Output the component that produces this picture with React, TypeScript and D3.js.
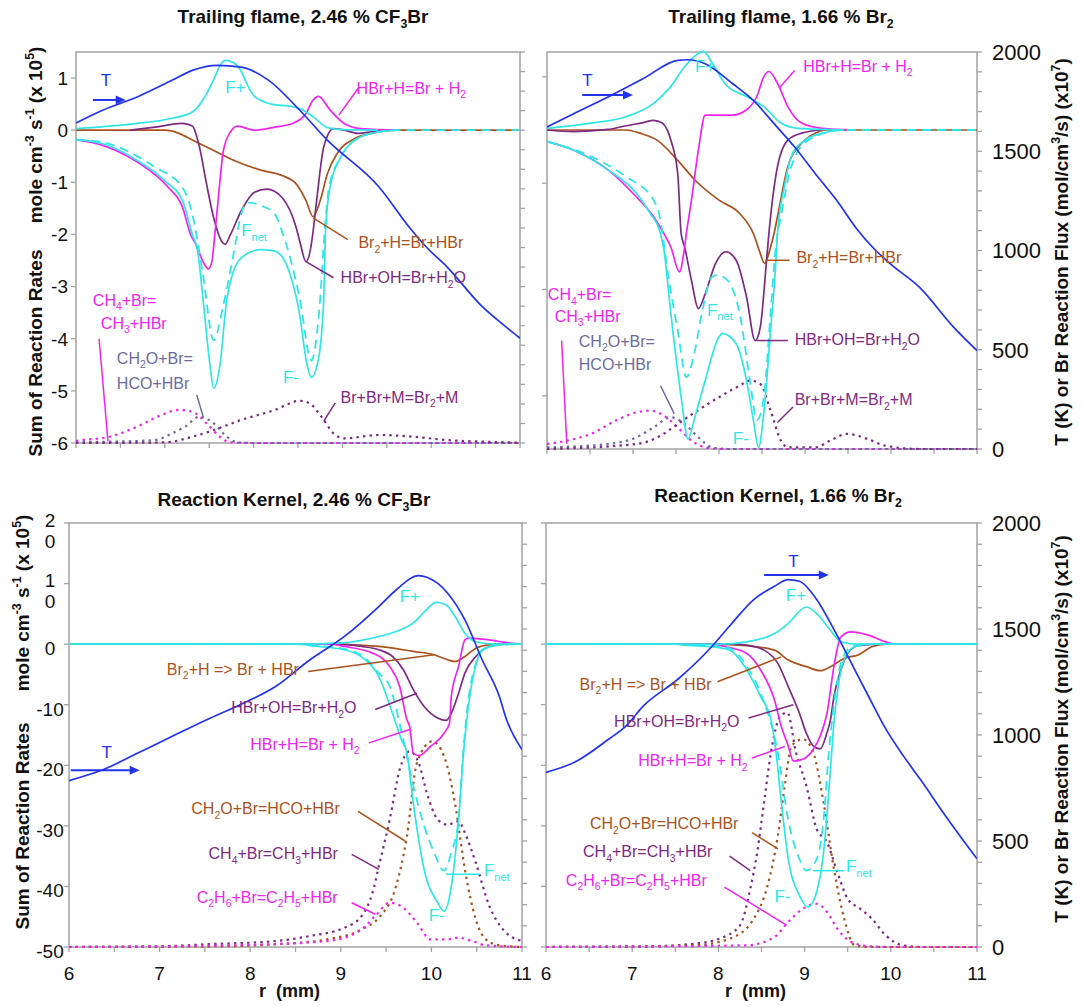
import * as d3 from 'd3';

type P = [number, number];

// axis values
const rRange: P = [6, 11];
const rTickLabels = [6, 7, 8, 9, 10, 11];
const tempLabels = [0, 500, 1000, 1500, 2000];
const trailTicks = [1, 0, -1, -2, -3, -4, -5, -6];
const trailTicksRight = [1, -1, -3, -5];
const kernelTicks = [20, 10, 0, -10, -20, -30, -40, -50];

// ---- Trailing flame, 2.46 % CF3Br  (rates x1e5, T and fluxes on right axis) ----
const tcT: P[] = [[6.0,1637],[6.3,1702],[6.69,1770],[7.08,1855],[7.31,1906],[7.59,1932],[7.86,1923],[8.17,1855],[8.52,1702],[8.83,1549],[9.41,1311],[9.76,1100],[9.95,1000],[10.18,900],[10.57,700],[10.88,580],[11.0,536]];
const tcFplus: P[] = [[6.0,0.03],[6.69,0.13],[7.08,0.23],[7.31,0.35],[7.43,0.58],[7.55,0.97],[7.64,1.29],[7.68,1.34],[7.78,1.29],[7.86,1.13],[7.93,0.87],[8.01,0.65],[8.2,0.5],[8.44,0.45],[8.55,0.39],[8.67,0.26],[8.83,0.05],[9.02,0.01],[9.4,0]];
const tcFminus: P[] = [[6.0,-0.18],[6.3,-0.26],[6.69,-0.58],[7.0,-0.97],[7.2,-1.35],[7.31,-2.0],[7.37,-2.32],[7.43,-3.23],[7.51,-4.52],[7.55,-4.95],[7.62,-4.52],[7.7,-3.23],[7.86,-2.45],[8.09,-2.29],[8.24,-2.32],[8.4,-2.71],[8.52,-3.55],[8.59,-4.39],[8.65,-4.74],[8.73,-4.39],[8.79,-3.23],[8.81,-1.94],[8.86,-1.1],[8.98,-0.52],[9.14,-0.19],[9.41,-0.03],[9.64,0]];
const tcFnet: P[] = [[6.0,-0.18],[6.3,-0.23],[6.89,-0.71],[7.2,-1.1],[7.31,-1.61],[7.43,-2.77],[7.55,-4.03],[7.66,-3.35],[7.78,-2.32],[7.86,-1.61],[7.93,-1.39],[8.09,-1.45],[8.24,-1.61],[8.32,-1.94],[8.52,-3.23],[8.65,-4.42],[8.75,-3.23],[8.8,-1.94],[8.85,-1.1],[8.98,-0.52],[9.14,-0.19],[9.41,-0.03],[9.64,0],[11.0,0]];
const tcHBrH: P[] = [[6.0,-0.18],[6.3,-0.29],[6.69,-0.61],[7.04,-1.1],[7.2,-1.48],[7.29,-2.0],[7.35,-2.19],[7.43,-2.52],[7.49,-2.66],[7.53,-2.52],[7.56,-2.06],[7.6,-1.35],[7.66,-0.39],[7.74,-0.03],[7.82,0.08],[8.01,0],[8.24,0.06],[8.44,0.13],[8.59,0.32],[8.67,0.58],[8.73,0.65],[8.86,0.39],[9.02,0.13],[9.21,0.03],[9.64,0]];
const tcHBrOH: P[] = [[6.61,0],[6.89,0.06],[7.2,0.13],[7.31,0.08],[7.39,-0.32],[7.47,-1.03],[7.55,-1.68],[7.64,-2.13],[7.68,-2.19],[7.74,-2.0],[7.86,-1.55],[8.01,-1.19],[8.15,-1.13],[8.32,-1.29],[8.48,-1.87],[8.52,-2.13],[8.59,-2.52],[8.65,-2.19],[8.67,-1.94],[8.71,-1.35],[8.79,-0.32],[8.9,0.03],[9.02,0],[9.18,-0.06],[9.33,-0.03],[9.49,0]];
const tcBr2H: P[] = [[6.0,0],[7.0,0],[7.16,-0.06],[7.31,-0.19],[7.55,-0.39],[7.78,-0.58],[8.09,-0.77],[8.32,-0.87],[8.48,-1.03],[8.59,-1.35],[8.67,-1.66],[8.75,-1.35],[8.83,-0.84],[8.94,-0.45],[9.14,-0.16],[9.33,-0.06],[9.6,0],[11.0,0]];
const tcCH4: P[] = [[6.0,10],[6.07,15],[6.38,32],[6.69,84],[6.92,135],[7.16,169],[7.31,160],[7.47,101],[7.62,32],[7.74,3],[8.0,0],[11.0,0]];
const tcCH2O: P[] = [[6.0,5],[6.5,8],[6.89,15],[7.08,49],[7.23,84],[7.39,135],[7.55,101],[7.7,32],[7.82,3],[8.0,0],[11.0,0]];
const tcBrBr: P[] = [[6.0,0],[7.0,3],[7.31,32],[7.55,66],[7.86,118],[8.24,169],[8.52,216],[8.63,203],[8.79,118],[8.9,49],[9.02,24],[9.41,41],[9.8,32],[10.18,15],[10.57,7],[11.0,2]];

// ---- Trailing flame, 1.66 % Br2 ----
const tbT: P[] = [[6.0,1622],[6.31,1689],[6.71,1773],[7.12,1866],[7.52,1958],[7.64,1961],[7.84,1941],[8.16,1840],[8.4,1756],[8.64,1639],[8.88,1521],[9.12,1387],[9.37,1252],[9.6,1110],[9.8,1010],[10.0,930],[10.33,815],[10.73,613],[11.0,496]];
const tbFplus: P[] = [[6.0,0.03],[6.51,0.13],[6.92,0.25],[7.24,0.5],[7.44,0.82],[7.6,1.19],[7.76,1.44],[7.82,1.48],[7.92,1.26],[8.08,0.85],[8.32,0.63],[8.52,0.44],[8.72,0.13],[8.92,0.03],[9.45,0]];
const tbFminus: P[] = [[6.0,-0.22],[6.31,-0.38],[6.71,-0.75],[7.04,-1.19],[7.2,-1.57],[7.32,-1.95],[7.36,-2.26],[7.44,-3.45],[7.56,-5.03],[7.64,-5.81],[7.72,-5.4],[7.84,-4.71],[8.0,-3.89],[8.04,-3.83],[8.2,-4.02],[8.32,-4.71],[8.4,-5.46],[8.46,-5.97],[8.52,-5.34],[8.6,-3.77],[8.66,-2.51],[8.68,-1.95],[8.76,-1.07],[8.84,-0.5],[9.0,-0.19],[9.2,-0.06],[9.45,0]];
const tbFnet: P[] = [[6.0,-0.22],[6.43,-0.44],[6.92,-0.88],[7.24,-1.32],[7.32,-1.7],[7.4,-2.64],[7.52,-3.77],[7.62,-4.65],[7.72,-4.15],[7.8,-3.45],[7.92,-2.76],[7.98,-2.73],[8.1,-2.83],[8.24,-3.45],[8.36,-4.71],[8.44,-5.46],[8.52,-5.03],[8.6,-3.45],[8.66,-2.2],[8.72,-1.63],[8.84,-0.69],[9.04,-0.19],[9.45,0],[11.0,0]];
const tbHBrH: P[] = [[6.0,-0.22],[6.31,-0.38],[6.71,-0.75],[7.04,-1.26],[7.24,-1.63],[7.36,-1.95],[7.44,-2.2],[7.54,-2.67],[7.6,-2.2],[7.62,-1.95],[7.68,-1.32],[7.76,-0.38],[7.84,0.28],[8.0,0.28],[8.16,0.28],[8.32,0.38],[8.44,0.63],[8.52,1.0],[8.58,1.1],[8.68,0.88],[8.8,0.44],[8.96,0.13],[9.2,0.03],[9.57,0]];
const tbHBrOH: P[] = [[6.0,0],[6.31,-0.03],[6.71,0.01],[6.92,0.08],[7.12,0.14],[7.24,0.18],[7.34,0.13],[7.44,-0.19],[7.52,-0.82],[7.56,-1.95],[7.6,-2.2],[7.68,-2.83],[7.76,-3.36],[7.84,-3.08],[7.96,-2.51],[8.08,-2.29],[8.2,-2.45],[8.32,-3.14],[8.42,-3.96],[8.48,-3.71],[8.55,-2.51],[8.58,-1.95],[8.68,-0.69],[8.8,-0.19],[8.96,-0.06],[9.2,0]];
const tbBr2H: P[] = [[6.0,0],[6.92,0],[7.08,-0.06],[7.28,-0.19],[7.52,-0.57],[7.72,-0.94],[8.0,-1.32],[8.24,-1.57],[8.4,-1.95],[8.48,-2.32],[8.53,-2.51],[8.6,-2.2],[8.64,-1.95],[8.68,-1.63],[8.8,-0.69],[8.96,-0.25],[9.12,-0.06],[9.25,0],[11.0,0]];
const tbCH4: P[] = [[6.0,25],[6.23,42],[6.51,76],[6.8,143],[7.04,185],[7.2,193],[7.36,168],[7.52,109],[7.68,42],[7.84,8],[8.0,0],[11.0,0]];
const tbCH2O: P[] = [[6.0,8],[6.71,25],[7.04,59],[7.24,109],[7.44,160],[7.6,126],[7.76,59],[7.92,8],[8.1,0],[11.0,0]];
const tbBrBr: P[] = [[6.0,0],[7.04,25],[7.32,67],[7.52,126],[7.72,185],[8.0,261],[8.24,319],[8.36,345],[8.48,328],[8.6,193],[8.72,42],[8.8,8],[9.12,8],[9.29,42],[9.49,76],[9.73,50],[9.93,17],[10.33,0],[11.0,0]];

// ---- Reaction kernel, 2.46 % CF3Br ----
const kcT: P[] = [[6.0,785],[6.38,837],[6.76,915],[7.14,994],[7.52,1072],[7.9,1145],[8.28,1229],[8.66,1355],[9.04,1465],[9.42,1606],[9.61,1684],[9.86,1752],[9.95,1744],[10.18,1669],[10.37,1543],[10.56,1355],[10.75,1182],[10.83,1072],[11.0,931]];
const kcFplus: P[] = [[6.0,0],[8.5,0],[9.0,0.2],[9.42,1.26],[9.61,2.1],[9.8,3.5],[9.96,5.9],[10.05,6.9],[10.16,6.5],[10.26,4.6],[10.37,1.8],[10.49,0.4],[10.7,0],[11.0,0]];
const kcFminus: P[] = [[6.0,0],[8.51,0],[8.74,-0.38],[9.04,-0.93],[9.27,-2.58],[9.42,-5.33],[9.57,-11.4],[9.67,-15.8],[9.73,-18.0],[9.8,-26.2],[9.92,-37.2],[10.07,-42.7],[10.14,-44.1],[10.22,-40.0],[10.3,-29.0],[10.36,-17],[10.42,-9],[10.49,-3.5],[10.56,-1.0],[10.71,-0.2],[10.87,0],[11.0,0]];
const kcFnet: P[] = [[6.0,0],[8.51,0],[8.74,-0.27],[9.04,-0.77],[9.27,-2.31],[9.42,-4.78],[9.54,-6.98],[9.69,-15.8],[9.8,-23.4],[9.92,-30.0],[10.03,-34.4],[10.14,-37.4],[10.22,-34.4],[10.3,-29.0],[10.35,-18.0],[10.41,-9],[10.49,-3.2],[10.56,-0.9],[10.75,-0.1],[11.0,0]];
const kcHBrH: P[] = [[6.0,0],[8.9,0],[9.04,-0.38],[9.35,-1.48],[9.54,-3.68],[9.65,-6.98],[9.73,-12.5],[9.76,-13.6],[9.8,-18.0],[9.86,-18.4],[9.99,-16.9],[10.14,-14.7],[10.2,-13.0],[10.22,-8.6],[10.3,-3.68],[10.37,0.71],[10.41,0.99],[10.56,0.82],[10.75,0.44],[10.87,0.16],[11.0,0]];
const kcHBrOH: P[] = [[6.0,0],[8.93,0],[9.23,-0.38],[9.42,-0.93],[9.57,-2.03],[9.69,-4.23],[9.8,-7.5],[9.92,-10.3],[10.07,-12.2],[10.16,-12.6],[10.22,-11.4],[10.3,-8.1],[10.37,-4.78],[10.49,-2.03],[10.64,-0.38],[10.79,0],[11.0,0]];
const kcBr2H: P[] = [[6.0,0],[8.8,0],[9.42,-0.38],[9.8,-1.2],[10.03,-1.76],[10.18,-2.58],[10.26,-2.86],[10.37,-2.03],[10.49,-0.66],[10.64,-0.1],[10.8,0],[11.0,0]];
const kcCH4: P[] = [[6.0,0],[7.0,3],[7.52,13],[8.28,28],[8.66,52],[9.04,91],[9.23,146],[9.35,256],[9.42,381],[9.54,601],[9.65,837],[9.76,923],[9.86,868],[9.95,727],[10.07,601],[10.18,577],[10.3,593],[10.37,538],[10.49,397],[10.64,193],[10.79,83],[11.0,28]];
const kcCH2O: P[] = [[6.0,0],[7.5,2],[8.28,13],[8.85,36],[9.23,83],[9.42,138],[9.61,287],[9.73,523],[9.84,868],[10.01,970],[10.14,899],[10.26,679],[10.37,365],[10.49,130],[10.6,36],[10.75,8],[11.0,0]];
const kcC2H6: P[] = [[6.0,0],[7.9,9],[8.85,28],[9.23,83],[9.38,146],[9.54,209],[9.69,185],[9.84,115],[9.99,36],[10.18,36],[10.3,44],[10.45,28],[10.6,8],[11.0,0]];

// ---- Reaction kernel, 1.66 % Br2 ----
const kbT: P[] = [[6.0,824],[6.33,871],[6.73,981],[6.93,1043],[7.13,1137],[7.53,1263],[7.93,1420],[8.13,1514],[8.41,1639],[8.65,1702],[8.81,1733],[8.94,1725],[9.14,1639],[9.34,1498],[9.54,1341],[9.74,1184],[9.94,1030],[10.14,905],[10.34,792],[10.66,604],[11.0,416]];
const kbFplus: P[] = [[6.0,0],[8.01,0],[8.33,0.38],[8.65,1.75],[8.81,3.4],[9.02,6.13],[9.14,5.04],[9.3,2.3],[9.42,0.38],[9.62,0],[11.0,0]];
const kbFminus: P[] = [[6.0,0],[7.5,0],[7.61,-0.16],[7.93,-0.44],[8.13,-0.99],[8.33,-4.27],[8.49,-8.65],[8.61,-12.5],[8.67,-18],[8.73,-26.1],[8.81,-35.4],[8.94,-41.5],[9.04,-43.4],[9.14,-40.9],[9.22,-34.4],[9.3,-20.7],[9.34,-13],[9.39,-7],[9.46,-2.5],[9.58,-0.44],[9.74,0],[11.0,0]];
const kbFnet: P[] = [[6.0,0],[7.5,0],[7.61,-0.1],[7.93,-0.3],[8.13,-0.7],[8.33,-3.7],[8.49,-8.1],[8.69,-18.0],[8.81,-29.0],[8.94,-35.5],[9.02,-37.4],[9.14,-35.5],[9.22,-29.0],[9.28,-18.0],[9.34,-10],[9.42,-3.2],[9.54,-0.44],[9.74,0],[11.0,0]];
const kbHBrH: P[] = [[6.0,0],[7.9,0],[8.09,-0.44],[8.33,-1.53],[8.49,-4.27],[8.65,-9.2],[8.73,-13.6],[8.81,-16.8],[8.87,-19.3],[8.98,-19.0],[9.1,-17.4],[9.18,-15.2],[9.26,-11.4],[9.34,-3.7],[9.42,1.2],[9.54,2.03],[9.74,1.48],[9.94,0.38],[10.06,0],[11.0,0]];
const kbHBrOH: P[] = [[6.0,0],[8.17,0],[8.33,-0.16],[8.53,-0.99],[8.69,-3.18],[8.81,-7.0],[8.94,-11.4],[9.02,-14.7],[9.1,-16.8],[9.18,-17.3],[9.26,-14.6],[9.3,-12.5],[9.34,-8.65],[9.42,-4.27],[9.5,-1.53],[9.62,-0.27],[9.86,0],[11.0,0]];
const kbBr2H: P[] = [[6.0,0],[7.93,0],[8.33,-0.27],[8.65,-0.99],[8.81,-2.63],[9.02,-3.72],[9.18,-4.38],[9.3,-3.72],[9.46,-2.35],[9.62,-1.8],[9.78,-0.44],[9.94,0],[11.0,0]];
const kbCH4: P[] = [[6.0,0],[7.13,2],[7.73,16],[8.01,39],[8.25,102],[8.37,275],[8.45,447],[8.53,682],[8.61,918],[8.72,1090],[8.8,1106],[8.9,918],[9.02,761],[9.14,557],[9.26,494],[9.38,353],[9.5,227],[9.64,182],[9.78,133],[9.94,55],[10.14,8],[10.4,0],[11.0,0]];
const kbCH2O: P[] = [[6.0,0],[7.73,8],[8.13,39],[8.41,133],[8.57,290],[8.69,525],[8.77,761],[8.85,949],[8.98,980],[9.1,918],[9.22,682],[9.34,369],[9.46,133],[9.58,8],[9.8,0],[11.0,0]];
const kbC2H6: P[] = [[6.0,0],[8.33,8],[8.65,47],[8.81,118],[8.98,180],[9.14,204],[9.26,165],[9.38,86],[9.54,24],[9.74,4],[10.0,0],[11.0,0]];

const BLUE = '#2233ee';
const CYAN = '#2ee6e6';
const MAG = '#f024f0';
const PUR = '#7e2a82';
const BRN = '#aa521e';
const SLATE = '#6b6b9e';
const FRAME = '#a3a3a3';
const FONT = 'Liberation Sans, Arial, Helvetica, sans-serif';

type Style = 'solid' | 'dash' | 'dot';
interface Series { d: P[]; c: string; ax: 'L' | 'R'; st: Style }
interface Note { t: string; r: number; v: number; c: string; mid?: boolean; fs?: number }
interface Lead { p: P[]; c: string }
interface PanelCfg {
  id: string;
  title: string; tx: number; ty: number;
  x0: number; x1: number; y0: number; y1: number;
  lDom: P; lTicks: number[];
  lLabels: 'trail' | 'kernel' | null;
  rLabels: boolean; xLabels: boolean;
  series: Series[]; notes: Note[]; leads: Lead[];
  arrow: { r0: number; r1: number; v: number };
}

// "_x" / "_{xx}" subscript, "^x" / "^{xx}" superscript
function rich(s: string, size: number) {
  const segs: { t: string; m: number }[] = [];
  let i = 0;
  while (i < s.length) {
    const ch = s[i];
    if ((ch === '_' || ch === '^') && i + 1 < s.length) {
      let t: string;
      if (s[i + 1] === '{') {
        const j = s.indexOf('}', i);
        t = s.slice(i + 2, j);
        i = j + 1;
      } else {
        t = s[i + 1];
        i += 2;
      }
      segs.push({ t, m: ch === '_' ? 1 : -1 });
    } else {
      let j = i;
      while (j < s.length && s[j] !== '_' && s[j] !== '^') j++;
      segs.push({ t: s.slice(i, j), m: 0 });
      i = j;
    }
  }
  let cur = 0;
  return segs.map((g, k) => {
    const target = g.m === 1 ? size * 0.28 : g.m === -1 ? -size * 0.42 : 0;
    const dy = target - cur;
    cur = target;
    return (
      <tspan key={k} dy={dy} fontSize={g.m ? size * 0.65 : size}>
        {g.t}
      </tspan>
    );
  });
}

const dashOf: Record<Style, string | undefined> = { solid: undefined, dash: '9 6', dot: '2.4 4.2' };
const widthOf: Record<Style, number> = { solid: 1.7, dash: 1.8, dot: 2.2 };

function Panel({ c }: { c: PanelCfg }) {
  const x = d3.scaleLinear().domain(rRange).range([c.x0, c.x1]);
  const yL = d3.scaleLinear().domain(c.lDom).range([c.y1, c.y0]);
  const yR = d3.scaleLinear().domain([0, 2000]).range([c.y1, c.y0]);
  const mk = (ax: 'L' | 'R') =>
    d3.line<P>()
      .x(d => x(d[0]))
      .y(d => (ax === 'L' ? yL(d[1]) : yR(d[1])))
      .curve(d3.curveMonotoneX);
  const leadLine = d3.line<P>().x(d => x(d[0])).y(d => yL(d[1]));
  const clipId = 'clip-' + c.id;
  const halfTicks = d3.range(6, 11.001, 0.5);
  const tTicks = d3.range(0, 2001, 100);
  const ax0 = x(c.arrow.r0), ax1 = x(c.arrow.r1), ay = yL(c.arrow.v);

  return (
    <g>
      <defs>
        <clipPath id={clipId}>
          <rect x={c.x0} y={c.y0 - 3} width={c.x1 - c.x0} height={c.y1 - c.y0 + 6} />
        </clipPath>
      </defs>
      <rect x={c.x0} y={c.y0} width={c.x1 - c.x0} height={c.y1 - c.y0} fill="none" stroke={FRAME} strokeWidth={1.5} />
      {halfTicks.map(r => (
        <line key={'x' + r} x1={x(r)} x2={x(r)} y1={c.y1} y2={c.y1 + 5} stroke={FRAME} strokeWidth={1.3} />
      ))}
      {tTicks.map(t => (
        <line key={'r' + t} x1={c.x1} x2={c.x1 + 5} y1={yR(t)} y2={yR(t)} stroke={FRAME} strokeWidth={1.3} />
      ))}
      {c.lTicks.map(v => (
        <line key={'l' + v} x1={c.x0 - 5} x2={c.x0} y1={yL(v)} y2={yL(v)} stroke={FRAME} strokeWidth={1.3} />
      ))}

      <g fontFamily={FONT} fill="#111">
        {c.lLabels === 'trail' &&
          trailTicks.map(v => (
            <text key={'tl' + v} x={c.x0 - 8} y={yL(v)} dy="0.36em" textAnchor="end" fontSize={19}>
              {String(v)}
            </text>
          ))}
        {c.lLabels === 'kernel' &&
          kernelTicks.map(v =>
            v >= 10 ? (
              <g key={'kl' + v}>
                <text x={c.x0 - 19} y={yL(v) - 3} dy="0.36em" textAnchor="middle" fontSize={19}>
                  {String(v)[0]}
                </text>
                <text x={c.x0 - 19} y={yL(v) + 18} dy="0.36em" textAnchor="middle" fontSize={19}>
                  {String(v).slice(1)}
                </text>
              </g>
            ) : (
              <text key={'kl' + v} x={c.x0 - 19} y={yL(v) + 4} dy="0.36em" textAnchor="middle" fontSize={19}>
                {String(v)}
              </text>
            )
          )}
        {c.rLabels &&
          tempLabels.map(t => (
            <text key={'rl' + t} x={c.x1 + 15} y={yR(t)} dy="0.36em" textAnchor="start" fontSize={22}>
              {String(t)}
            </text>
          ))}
        {c.xLabels &&
          rTickLabels.map(r => (
            <text key={'xl' + r} x={x(r)} y={c.y1 + 33} textAnchor="middle" fontSize={19}>
              {String(r)}
            </text>
          ))}
        {c.xLabels && (
          <text x={(c.x0 + c.x1) / 2 - 6} y={c.y1 + 50} textAnchor="middle" fontSize={18} fontWeight="bold" style={{ whiteSpace: 'pre' }}>
            {'r  (mm)'}
          </text>
        )}
        <text x={c.tx} y={c.ty} textAnchor="middle" fontSize={19} fontWeight="bold" style={{ whiteSpace: 'pre' }}>
          {rich(c.title, 19)}
        </text>
      </g>

      <g clipPath={`url(#${clipId})`} fill="none">
        {c.series.map((s, i) => (
          <path
            key={i}
            d={mk(s.ax)(s.d) || ''}
            stroke={s.c}
            strokeWidth={widthOf[s.st]}
            strokeDasharray={dashOf[s.st]}
            strokeLinejoin="round"
          />
        ))}
      </g>

      <g fill="none" strokeWidth={1.5}>
        {c.leads.map((l, i) => (
          <path key={i} d={leadLine(l.p) || ''} stroke={l.c} />
        ))}
        <line x1={ax0} x2={ax1 - 8} y1={ay} y2={ay} stroke={BLUE} strokeWidth={2} />
      </g>
      <polygon points={`${ax1},${ay} ${ax1 - 10},${ay - 4.5} ${ax1 - 10},${ay + 4.5}`} fill={BLUE} />

      <g fontFamily={FONT}>
        {c.notes.map((n, i) => (
          <text
            key={i}
            x={x(n.r)}
            y={yL(n.v)}
            fill={n.c}
            fontSize={n.fs || 16}
            textAnchor={n.mid ? 'middle' : 'start'}
            style={{ whiteSpace: 'pre' }}
          >
            {rich(n.t, n.fs || 16)}
          </text>
        ))}
      </g>
    </g>
  );
}

const panels: PanelCfg[] = [
  {
    id: 'tc', title: 'Trailing flame, 2.46 % CF_3Br', tx: 303, ty: 23,
    x0: 76, x1: 520, y0: 52, y1: 443, lDom: [-6, 1.5], lTicks: trailTicks,
    lLabels: 'trail', rLabels: false, xLabels: false,
    series: [
      { d: tcCH4, c: MAG, ax: 'R', st: 'dot' },
      { d: tcCH2O, c: SLATE, ax: 'R', st: 'dot' },
      { d: tcBrBr, c: PUR, ax: 'R', st: 'dot' },
      { d: tcBr2H, c: BRN, ax: 'L', st: 'solid' },
      { d: tcHBrOH, c: PUR, ax: 'L', st: 'solid' },
      { d: tcHBrH, c: MAG, ax: 'L', st: 'solid' },
      { d: tcFplus, c: CYAN, ax: 'L', st: 'solid' },
      { d: tcFminus, c: CYAN, ax: 'L', st: 'solid' },
      { d: tcFnet, c: CYAN, ax: 'L', st: 'dash' },
      { d: tcT, c: BLUE, ax: 'R', st: 'solid' },
    ],
    notes: [
      { t: 'T', r: 6.28, v: 0.85, c: BLUE, fs: 17 },
      { t: 'F+', r: 7.68, v: 0.71, c: CYAN, fs: 17 },
      { t: 'HBr+H=Br + H_2', r: 9.16, v: 0.7, c: MAG },
      { t: 'F_{net}', r: 7.86, v: -2.03, c: CYAN, fs: 17 },
      { t: 'Br_2+H=Br+HBr', r: 9.18, v: -2.26, c: BRN },
      { t: 'HBr+OH=Br+H_2O', r: 8.98, v: -2.94, c: PUR },
      { t: 'CH_4+Br=', r: 6.19, v: -3.37, c: MAG },
      { t: 'CH_3+HBr', r: 6.28, v: -3.81, c: MAG },
      { t: 'CH_2O+Br=', r: 6.46, v: -4.48, c: SLATE },
      { t: 'HCO+HBr', r: 6.46, v: -4.97, c: SLATE },
      { t: 'F-', r: 8.33, v: -4.84, c: CYAN, fs: 17 },
      { t: 'Br+Br+M=Br_2+M', r: 8.98, v: -5.23, c: PUR },
    ],
    leads: [
      { c: MAG, p: [[9.18, 0.81], [8.96, 0.29]] },
      { c: BRN, p: [[9.06, -2.1], [8.67, -1.68]] },
      { c: PUR, p: [[8.9, -2.83], [8.59, -2.52]] },
      { c: MAG, p: [[6.26, -4.0], [6.36, -5.97]] },
      { c: SLATE, p: [[7.36, -5.08], [7.43, -5.48]] },
      { c: PUR, p: [[8.92, -5.23], [8.79, -5.58]] },
    ],
    arrow: { r0: 6.19, r1: 6.56, v: 0.58 },
  },
  {
    id: 'tb', title: 'Trailing flame, 1.66 % Br_2', tx: 781, ty: 23,
    x0: 547, x1: 977, y0: 52, y1: 449, lDom: [-6, 1.467], lTicks: trailTicksRight,
    lLabels: null, rLabels: true, xLabels: false,
    series: [
      { d: tbCH4, c: MAG, ax: 'R', st: 'dot' },
      { d: tbCH2O, c: SLATE, ax: 'R', st: 'dot' },
      { d: tbBrBr, c: PUR, ax: 'R', st: 'dot' },
      { d: tbBr2H, c: BRN, ax: 'L', st: 'solid' },
      { d: tbHBrOH, c: PUR, ax: 'L', st: 'solid' },
      { d: tbHBrH, c: MAG, ax: 'L', st: 'solid' },
      { d: tbFplus, c: CYAN, ax: 'L', st: 'solid' },
      { d: tbFminus, c: CYAN, ax: 'L', st: 'solid' },
      { d: tbFnet, c: CYAN, ax: 'L', st: 'dash' },
      { d: tbT, c: BLUE, ax: 'R', st: 'solid' },
    ],
    notes: [
      { t: 'T', r: 6.41, v: 0.83, c: BLUE, fs: 17 },
      { t: 'F+', r: 7.72, v: 1.1, c: CYAN, fs: 17 },
      { t: 'HBr+H=Br + H_2', r: 8.98, v: 1.1, c: MAG },
      { t: 'Br_2+H=Br+HBr', r: 8.9, v: -2.51, c: BRN },
      { t: 'F_{net}', r: 7.86, v: -3.49, c: CYAN, fs: 17 },
      { t: 'HBr+OH=Br+H_2O', r: 8.88, v: -4.05, c: PUR },
      { t: 'CH_4+Br=', r: 6.01, v: -3.2, c: MAG },
      { t: 'CH_3+HBr', r: 6.09, v: -3.61, c: MAG },
      { t: 'CH_2O+Br=', r: 6.37, v: -4.08, c: SLATE },
      { t: 'HCO+HBr', r: 6.37, v: -4.52, c: SLATE },
      { t: 'F-', r: 8.16, v: -5.9, c: CYAN, fs: 17 },
      { t: 'Br+Br+M=Br_2+M', r: 8.88, v: -5.18, c: PUR },
    ],
    leads: [
      { c: MAG, p: [[8.88, 1.12], [8.7, 0.79]] },
      { c: BRN, p: [[8.82, -2.45], [8.54, -2.45]] },
      { c: PUR, p: [[8.8, -3.96], [8.44, -3.96]] },
      { c: MAG, p: [[6.17, -3.96], [6.23, -5.9]] },
      { c: SLATE, p: [[7.32, -4.81], [7.48, -5.34]] },
      { c: PUR, p: [[8.86, -5.21], [8.68, -5.5]] },
    ],
    arrow: { r0: 6.41, r1: 7.0, v: 0.66 },
  },
  {
    id: 'kc', title: 'Reaction Kernel, 2.46 % CF_3Br', tx: 294, ty: 506,
    x0: 69, x1: 522, y0: 523, y1: 947, lDom: [-50, 20], lTicks: kernelTicks,
    lLabels: 'kernel', rLabels: false, xLabels: true,
    series: [
      { d: kcCH4, c: PUR, ax: 'R', st: 'dot' },
      { d: kcCH2O, c: BRN, ax: 'R', st: 'dot' },
      { d: kcC2H6, c: MAG, ax: 'R', st: 'dot' },
      { d: kcBr2H, c: BRN, ax: 'L', st: 'solid' },
      { d: kcHBrOH, c: PUR, ax: 'L', st: 'solid' },
      { d: kcHBrH, c: MAG, ax: 'L', st: 'solid' },
      { d: kcFplus, c: CYAN, ax: 'L', st: 'solid' },
      { d: kcFminus, c: CYAN, ax: 'L', st: 'solid' },
      { d: kcFnet, c: CYAN, ax: 'L', st: 'dash' },
      { d: kcT, c: BLUE, ax: 'R', st: 'solid' },
    ],
    notes: [
      { t: 'F+', r: 9.65, v: 7.03, c: CYAN, fs: 17 },
      { t: 'Br_2+H => Br + HBr', r: 7.08, v: -5.05, c: BRN },
      { t: 'HBr+OH=Br+H_2O', r: 7.79, v: -11.4, c: PUR },
      { t: 'HBr+H=Br + H_2', r: 8.0, v: -17.4, c: MAG },
      { t: 'T', r: 6.36, v: -18.8, c: BLUE, fs: 17 },
      { t: 'CH_2O+Br=HCO+HBr', r: 7.35, v: -28.1, c: BRN },
      { t: 'CH_4+Br=CH_3+HBr', r: 7.54, v: -35.5, c: PUR },
      { t: 'F_{net}', r: 10.58, v: -38.3, c: CYAN, fs: 17 },
      { t: 'C_2H_6+Br=C_2H_5+HBr', r: 7.41, v: -42.7, c: MAG },
      { t: 'F-', r: 9.97, v: -45.7, c: CYAN, fs: 17 },
    ],
    leads: [
      { c: BRN, p: [[8.64, -4.5], [10.03, -1.76]] },
      { c: PUR, p: [[9.38, -10.8], [9.84, -8.1]] },
      { c: MAG, p: [[9.31, -16.3], [9.76, -14.1]] },
      { c: BRN, p: [[9.19, -27.6], [9.71, -32.5]] },
      { c: PUR, p: [[9.12, -34.7], [9.42, -37.2]] },
      { c: CYAN, p: [[10.54, -38.0], [10.16, -38.0]] },
      { c: MAG, p: [[9.12, -42.7], [9.38, -44.6]] },
    ],
    arrow: { r0: 6.02, r1: 6.78, v: -20.8 },
  },
  {
    id: 'kb', title: 'Reaction Kernel, 1.66 % Br_2', tx: 778, ty: 502,
    x0: 546, x1: 977, y0: 523, y1: 947, lDom: [-50, 20], lTicks: kernelTicks,
    lLabels: null, rLabels: true, xLabels: true,
    series: [
      { d: kbCH4, c: PUR, ax: 'R', st: 'dot' },
      { d: kbCH2O, c: BRN, ax: 'R', st: 'dot' },
      { d: kbC2H6, c: MAG, ax: 'R', st: 'dot' },
      { d: kbBr2H, c: BRN, ax: 'L', st: 'solid' },
      { d: kbHBrOH, c: PUR, ax: 'L', st: 'solid' },
      { d: kbHBrH, c: MAG, ax: 'L', st: 'solid' },
      { d: kbFplus, c: CYAN, ax: 'L', st: 'solid' },
      { d: kbFminus, c: CYAN, ax: 'L', st: 'solid' },
      { d: kbFnet, c: CYAN, ax: 'L', st: 'dash' },
      { d: kbT, c: BLUE, ax: 'R', st: 'solid' },
    ],
    notes: [
      { t: 'T', r: 8.87, v: 12.8, c: BLUE, fs: 17, mid: true },
      { t: 'F+', r: 8.9, v: 7.1, c: CYAN, fs: 17, mid: true },
      { t: 'Br_2+H => Br + HBr', r: 6.39, v: -7.56, c: BRN },
      { t: 'HBr+OH=Br+H_2O', r: 6.79, v: -13.6, c: PUR },
      { t: 'HBr+H=Br + H_2', r: 7.07, v: -20.2, c: MAG },
      { t: 'CH_2O+Br=HCO+HBr', r: 6.51, v: -30.6, c: BRN },
      { t: 'CH_4+Br=CH_3+HBr', r: 6.43, v: -35.2, c: PUR },
      { t: 'F_{net}', r: 9.48, v: -37.7, c: CYAN, fs: 17 },
      { t: 'C_2H_6+Br=C_2H_5+HBr', r: 6.23, v: -39.9, c: MAG },
      { t: 'F-', r: 8.65, v: -42.6, c: CYAN, fs: 17 },
    ],
    leads: [
      { c: BRN, p: [[7.99, -6.2], [8.73, -2.1]] },
      { c: PUR, p: [[8.35, -12.2], [8.87, -10.0]] },
      { c: MAG, p: [[8.39, -18.8], [8.77, -16.9]] },
      { c: BRN, p: [[8.39, -31.1], [8.69, -33.8]] },
      { c: PUR, p: [[8.13, -35.0], [8.37, -37.4]] },
      { c: CYAN, p: [[9.46, -37.4], [9.1, -37.4]] },
      { c: MAG, p: [[8.07, -40.1], [8.79, -46.4]] },
    ],
    arrow: { r0: 8.53, r1: 9.28, v: 11.4 },
  },
];

function SideTitle({ x, y, s, size }: { x: number; y: number; s: string; size: number }) {
  return (
    <text
      transform={`translate(${x},${y}) rotate(-90)`}
      textAnchor="middle"
      fontFamily={FONT}
      fontWeight="bold"
      fontSize={size}
      fill="#111"
      style={{ whiteSpace: 'pre' }}
    >
      {rich(s, size)}
    </text>
  );
}

export default function App() {
  const rateUnit = 'mole cm^{-3} s^{-1} (x 10^5)';
  const rightTitle = 'T (K) or Br Reaction Flux (mol/cm^3/s) (x10^7)';
  return (
    <div style={{ position: 'absolute', left: 0, top: 0 }}>
      <svg width={1082} height={1006} style={{ display: 'block', background: '#fff' }}>
        {panels.map(p => (
          <Panel key={p.id} c={p} />
        ))}
        <SideTitle x={42} y={353} s="Sum of Reaction Rates" size={19} />
        <SideTitle x={42} y={135} s={rateUnit} size={19} />
        <SideTitle x={29} y={826} s="Sum of Reaction Rates" size={19} />
        <SideTitle x={29} y={603} s={rateUnit} size={19} />
        <SideTitle x={1068} y={252} s={rightTitle} size={19} />
        <SideTitle x={1068} y={729} s={rightTitle} size={19} />
      </svg>
    </div>
  );
}
